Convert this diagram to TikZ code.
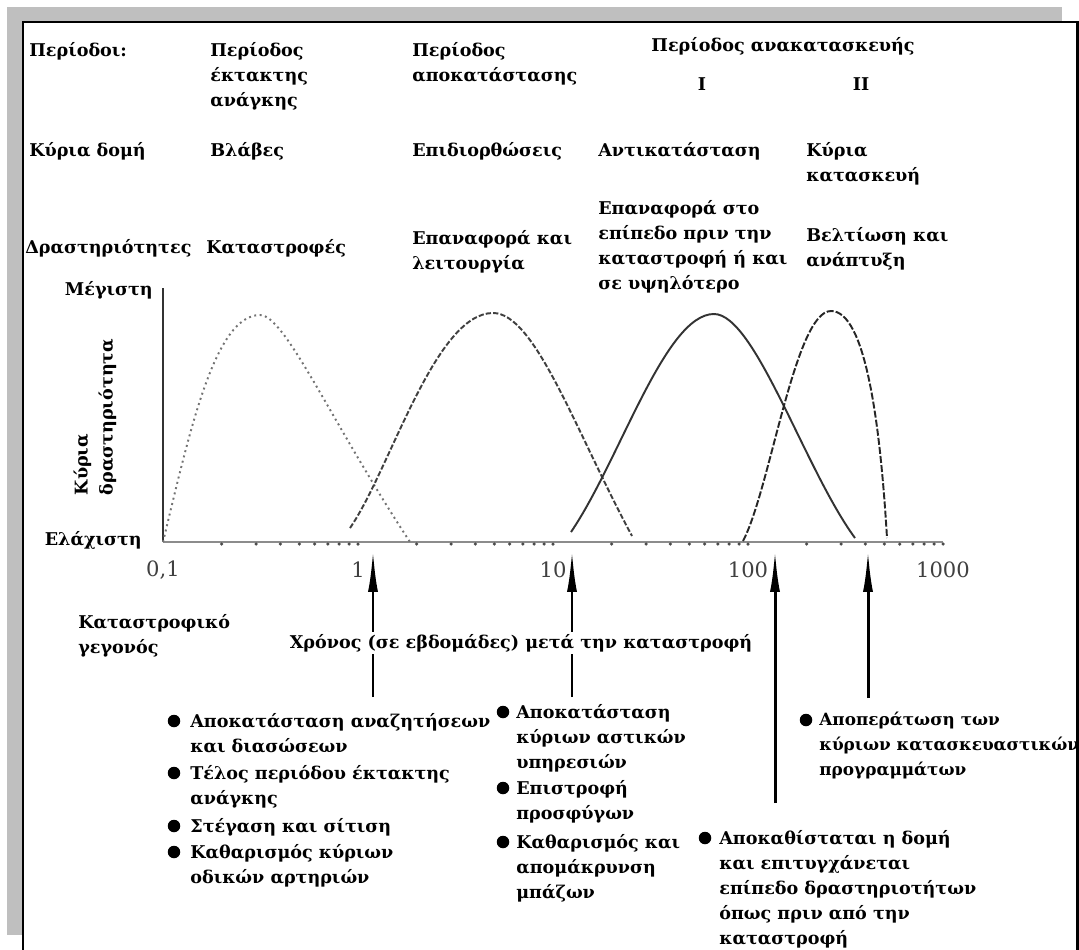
\documentclass[tikz,border=0pt]{standalone}
\usepackage{fontspec}
\setmainfont{DejaVu Serif}
\usetikzlibrary{arrows.meta}
\definecolor{framegray}{RGB}{191,191,191}
\begin{document}
\begin{tikzpicture}[x=0.02cm,y=-0.02cm,
    lbl/.style = {anchor=north west,inner sep=0pt,align=left,font=\bfseries\fontsize{10}{14.23}\selectfont},
    num/.style = {inner sep=0pt,text=black!75,font=\fontsize{12}{14}\selectfont},
    arrow/.style = {line width=1.7pt,-{Latex[length=0.84cm,width=0.2cm]}},
    bell/.style = {line width=1.1pt}]
    \useasboundingbox (0,0) rectangle (1079,950);
    \fill[framegray] (7,7) rectangle (1062,935);
    \fill[white] (23,22) rectangle (1077,960);

    \node[lbl] (per) at (29,42) {Περίοδοι:};
    \node[lbl] (pea) at (210,42) {Περίοδος\\έκτακτης\\ανάγκης};
    \node[lbl] (pap) at (412,42) {Περίοδος\\αποκατάστασης};
    \node[lbl,anchor=north] (pan) at (783,37) {Περίοδος ανακατασκευής};
    \node[lbl,anchor=north] (pI) at (702,77) {I};
    \node[lbl,anchor=north] (pII) at (861,77) {II};

    \node[lbl] (dom) at (29,142) {Κύρια δομή};
    \node[lbl] (vla) at (210,142) {Βλάβες};
    \node[lbl] (epi) at (412,142) {Επιδιορθώσεις};
    \node[lbl] (ant) at (598,142) {Αντικατάσταση};
    \node[lbl] (kat) at (806,142) {Κύρια\\κατασκευή};

    \node[lbl] (dra) at (25,239) {Δραστηριότητες};
    \node[lbl] (kst) at (206,239) {Καταστροφές};
    \node[lbl] (lei) at (412,230) {Επαναφορά και\\λειτουργία};
    \node[lbl] (ypl) at (598,200) {Επαναφορά στο\\επίπεδο πριν την\\καταστροφή ή και\\σε υψηλότερο};
    \node[lbl] (ana) at (806,227) {Βελτίωση και\\ανάπτυξη};

    \coordinate (O) at (163,542);
    \coordinate (ytop) at (163,288);
    \coordinate (xend) at (943,542);
    \draw[line width=1.3pt,black!80] (ytop) -- (O);
    \draw[line width=1.3pt,black!45] (O) -- (xend);
    \foreach \d in {0,...,3}
        \foreach \k in {2,...,10}
            \fill[black!70] ({163+195*(\d+log10(\k))},544) circle (0.35mm);
    \node[lbl,anchor=east] (max) at (153,290) {Μέγιστη};
    \node[lbl,anchor=east] (min) at (142,540) {Ελάχιστη};
    \node[lbl,anchor=center,rotate=90] (kd) at (95,417) {Κύρια\\δραστηριότητα};
    \foreach \v/\t in {0/{0,1},1/1,2/10,3/100,4/1000}
        \node[num] (t\v) at ({163+195*\v},570) {\t};

    \draw[bell,black!55,dotted] (O) .. controls (190,430) and (215,315) .. (260,315)
        .. controls (285,315) and (330,420) .. (410,542);
    \draw[bell,black!75,dash pattern=on 3pt off 1.2pt] (350,528) .. controls (390,470) and (435,313) .. (493,313)
        .. controls (535,313) and (575,430) .. (632,536);
    \draw[bell,black!80] (571,532) .. controls (620,460) and (665,314) .. (714,314)
        .. controls (755,314) and (805,470) .. (855,538);
    \draw[bell,black!85,dash pattern=on 4pt off 1.2pt] (743,541) .. controls (770,490) and (795,311) .. (831,311)
        .. controls (865,311) and (880,420) .. (887,538);

    \node[lbl] (kgg) at (78,614) {Καταστροφικό\\γεγονός};

    \coordinate (a1s) at (373,697);
    \coordinate (a1e) at (373,550);
    \coordinate (a2s) at (572,697);
    \coordinate (a2e) at (572,550);
    \coordinate (a3s) at (775,803);
    \coordinate (a3e) at (775,550);
    \coordinate (a4s) at (868,698);
    \coordinate (a4e) at (868,550);
    \draw[arrow] (a1s) -- (a1e);
    \draw[arrow] (a2s) -- (a2e);
    \node[lbl,anchor=west,fill=white,inner sep=0.05cm] (time) at (287,643) {Χρόνος (σε εβδομάδες) μετά την καταστροφή};
    \draw[arrow] (a3s) -- (a3e);
    \draw[arrow] (a4s) -- (a4e);

    \node[lbl] (l1a) at (190,713) {Αποκατάσταση αναζητήσεων\\και διασώσεων};
    \node[lbl] (l1b) at (190,765) {Τέλος περιόδου έκτακτης\\ανάγκης};
    \node[lbl] (l1c) at (190,818) {Στέγαση και σίτιση};
    \node[lbl] (l1d) at (190,844) {Καθαρισμός κύριων\\οδικών αρτηριών};
    \foreach \y in {721,773,826,852}
        \fill (174,\y) circle (1.25mm);

    \node[lbl] (l2a) at (516,704) {Αποκατάσταση\\κύριων αστικών\\υπηρεσιών};
    \node[lbl] (l2b) at (516,780) {Επιστροφή\\προσφύγων};
    \node[lbl] (l2c) at (516,834) {Καθαρισμός και\\απομάκρυνση\\μπάζων};
    \foreach \y in {712,788,842}
        \fill (503,\y) circle (1.25mm);

    \node[lbl] (l3) at (719,830) {Αποκαθίσταται η δομή\\και επιτυγχάνεται\\επίπεδο δραστηριοτήτων\\όπως πριν από την\\καταστροφή};
    \fill (705,838) circle (1.25mm);

    \node[lbl,font=\bfseries\fontsize{9.6}{14.23}\selectfont] (l4) at (819,712) {Αποπεράτωση των\\κύριων κατασκευαστικών\\προγραμμάτων};
    \fill (806,720) circle (1.25mm);

    \draw[line width=1.7pt] (23,960) -- (23,22) -- (1077,22) -- (1077,960);
\end{tikzpicture}
\end{document}
